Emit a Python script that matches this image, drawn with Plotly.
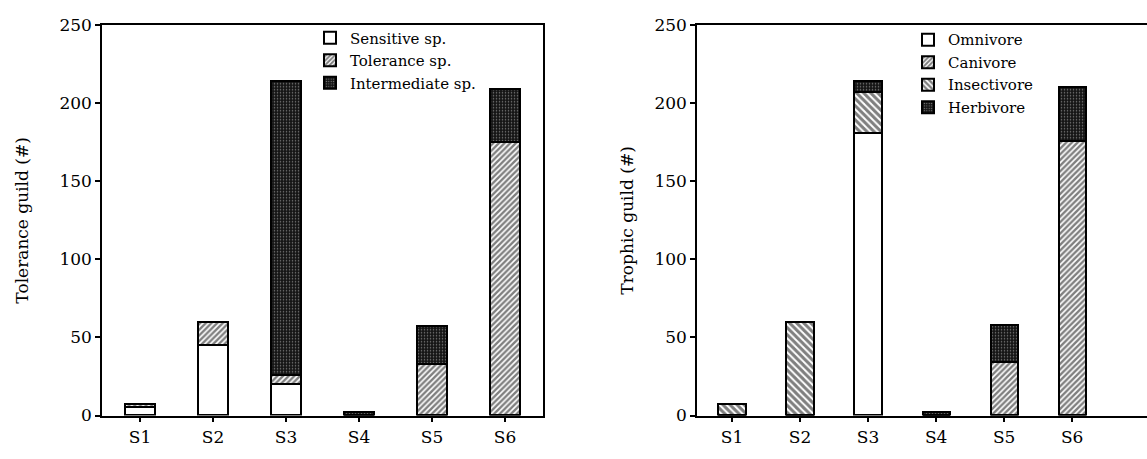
import plotly.graph_objects as go

sites = ["S1", "S2", "S3", "S4", "S5", "S6"]

# Tolerance guild (left panel)
sensitive = [5, 45, 20, 0, 0, 0]
tolerance = [2, 15, 6, 0, 33, 175]
intermediate = [0, 0, 188, 2, 24, 34]

# Trophic guild (right panel)
omnivore = [0, 0, 181, 0, 0, 0]
canivore = [0, 0, 0, 0, 34, 176]
insectivore = [7, 60, 26, 0, 0, 0]
herbivore = [0, 0, 7, 2, 24, 34]

FONT = "DejaVu Serif"
W, H = 1147, 459
LW = 2

def pat_white():
    return dict(color="white", line=dict(color="black", width=LW))

def pat_fwd():
    return dict(color="white", line=dict(color="black", width=LW),
                pattern=dict(shape="/", fgcolor="black", bgcolor="white", size=4, solidity=0.6))

def pat_back():
    return dict(color="white", line=dict(color="black", width=LW),
                pattern=dict(shape="\\", fgcolor="black", bgcolor="white", size=5, solidity=0.6))

def pat_dots():
    return dict(color="#151515", line=dict(color="black", width=LW),
                pattern=dict(shape=".", fgcolor="#e8e8e8", bgcolor="#151515", size=3, solidity=0.2))

fig = go.Figure()
wl, wr = 0.41, 0.40
fig.add_bar(x=sites, y=sensitive, name="Sensitive sp.", marker=pat_white(), width=wl,
            xaxis="x", yaxis="y", legend="legend")
fig.add_bar(x=sites, y=tolerance, name="Tolerance sp.", marker=pat_fwd(), width=wl,
            xaxis="x", yaxis="y", legend="legend")
fig.add_bar(x=sites, y=intermediate, name="Intermediate sp.", marker=pat_dots(), width=wl,
            xaxis="x", yaxis="y", legend="legend")

fig.add_bar(x=sites, y=omnivore, name="Omnivore", marker=pat_white(), width=wr,
            xaxis="x2", yaxis="y2", legend="legend2")
fig.add_bar(x=sites, y=canivore, name="Canivore", marker=pat_fwd(), width=wr,
            xaxis="x2", yaxis="y2", legend="legend2")
fig.add_bar(x=sites, y=insectivore, name="Insectivore", marker=pat_back(), width=wr,
            xaxis="x2", yaxis="y2", legend="legend2")
fig.add_bar(x=sites, y=herbivore, name="Herbivore", marker=pat_dots(), width=wr,
            xaxis="x2", yaxis="y2", legend="legend2")

ydom = [1 - 424 / H, 1 - 16 / H]
axis_common = dict(showline=True, linecolor="black", linewidth=1.5, showgrid=False,
                   zeroline=False, ticks="outside", ticklen=5, tickwidth=1.5, tickcolor="black",
                   tickfont=dict(family=FONT, size=17, color="black"))

fig.update_layout(
    width=W, height=H, margin=dict(l=0, r=0, t=0, b=0),
    paper_bgcolor="white", plot_bgcolor="white",
    barmode="stack", bargap=0.0,
    font=dict(family=FONT, color="black"),
    xaxis=dict(domain=[102 / W, 543 / W], range=[-0.52, 5.52], mirror=True, anchor="y",
               **axis_common),
    yaxis=dict(domain=ydom, range=[0, 250], dtick=50, mirror=True, anchor="x",
               title=dict(text="Tolerance guild (#)", font=dict(family=FONT, size=17), standoff=26),
               **axis_common),
    xaxis2=dict(domain=[697 / W, 1.0], range=[-0.515, 6.10], mirror=True, anchor="y2",
                **axis_common),
    yaxis2=dict(domain=ydom, range=[0, 250], dtick=50, mirror=False, anchor="x2",
                title=dict(text="Trophic guild (#)", font=dict(family=FONT, size=17), standoff=16),
                **axis_common),
    legend=dict(x=310 / W, y=1 - 12 / H, xanchor="left", yanchor="top", traceorder="normal",
                bgcolor="rgba(0,0,0,0)", font=dict(family=FONT, size=15, color="black"),
                itemwidth=30, tracegroupgap=0),
    legend2=dict(x=908 / W, y=1 - 14 / H, xanchor="left", yanchor="top", traceorder="normal",
                 bgcolor="rgba(0,0,0,0)", font=dict(family=FONT, size=15, color="black"),
                 itemwidth=30, tracegroupgap=0),
)

fig.write_html("out.html")
